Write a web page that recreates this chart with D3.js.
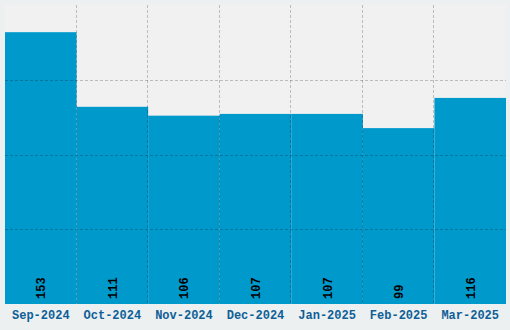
<!DOCTYPE html>
<html><head><meta charset="utf-8">
<script src="https://cdn.jsdelivr.net/npm/d3@7"></script>
<style>html,body{margin:0;padding:0;background:#ecf0f1;}svg{display:block;}</style>
</head><body>
<script>
const categories = ["Sep-2024","Oct-2024","Nov-2024","Dec-2024","Jan-2025","Feb-2025","Mar-2025"];
const values = [153, 111, 106, 107, 107, 99, 116];

const W = 510, H = 330;
const m = {top: 5, right: 4, bottom: 26, left: 5};
const iw = W - m.left - m.right, ih = H - m.top - m.bottom;

const svg = d3.select("body").append("svg").attr("width", W).attr("height", H);
svg.append("rect").attr("width", W).attr("height", H).attr("fill", "#ecf0f1");
const g = svg.append("g").attr("transform", `translate(${m.left},${m.top})`);
g.append("rect").attr("width", iw).attr("height", ih).attr("fill", "#f1f1f1");

const x = d3.scaleBand().domain(categories).range([0, iw]).padding(0);
const y = d3.scaleLinear().domain([0, d3.max(values) * 1.1]).range([ih, 0]);

g.selectAll("rect.bar").data(values).join("rect").attr("class", "bar")
  .attr("x", (d, i) => x(categories[i]))
  .attr("width", x.bandwidth())
  .attr("y", d => y(d))
  .attr("height", d => ih - y(d))
  .attr("fill", "#0099cc");

// grid
const ymax = y.domain()[1];
const yTicks = d3.range(1, 4).map(k => ymax * k / 4);
g.selectAll("line.hg").data(yTicks).join("line")
  .attr("x1", 0).attr("x2", iw)
  .attr("y1", d => Math.round(y(d)) + 0.5).attr("y2", d => Math.round(y(d)) + 0.5)
  .attr("stroke", "rgba(0,0,0,0.22)").attr("stroke-dasharray", "3,2");
g.selectAll("line.vg").data(categories.slice(1)).join("line")
  .attr("y1", 0).attr("y2", ih)
  .attr("x1", d => Math.round(x(d)) - 0.5).attr("x2", d => Math.round(x(d)) - 0.5)
  .attr("stroke", "rgba(0,0,0,0.22)").attr("stroke-dasharray", "3,2");

// value labels
g.selectAll("text.val").data(values).join("text")
  .attr("transform", (d, i) => `translate(${x(categories[i]) + x.bandwidth()/2 + 4.5},${ih - 5}) rotate(-90)`)
  .attr("text-anchor", "start")
  .attr("font-family", "Liberation Mono, monospace")
  .attr("font-weight", "bold")
  .attr("font-size", "12px")
  .attr("fill", "#000")
  .text(d => d);

// x axis labels
const xAxis = d3.axisBottom(x).tickSize(0).tickPadding(6);
const ax = g.append("g").attr("transform", `translate(0,${ih})`).call(xAxis);
ax.select(".domain").remove();
ax.selectAll("text")
  .attr("font-family", "Liberation Mono, monospace")
  .attr("font-weight", "bold")
  .attr("font-size", "12px")
  .attr("fill", "#0f5f97");
</script>
</body></html>
